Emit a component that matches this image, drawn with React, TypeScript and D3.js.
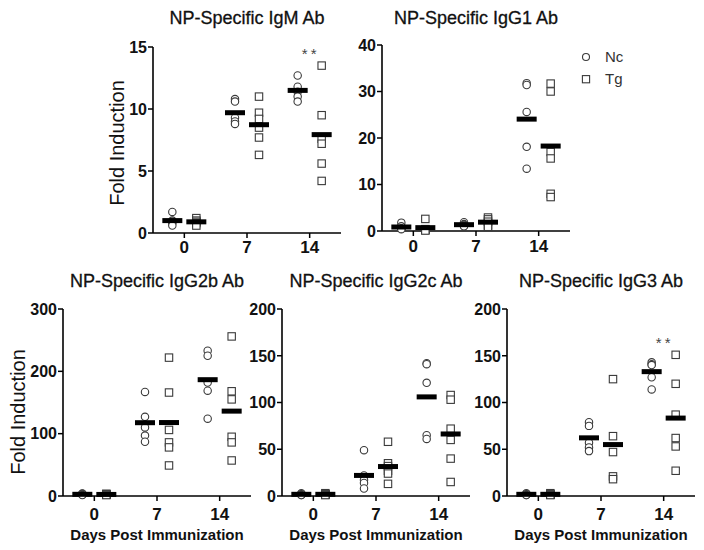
import React from "react";
import * as d3 from "d3";

// ---- data ----
const days = ["0", "7", "14"];
const groups = ["Nc", "Tg"];

const igmNc = [[1.7, 1.0, 0.9, 0.8, 0.6], [10.8, 10.6, 9.3, 9.0, 8.8], [12.7, 11.8, 11.4, 11.0, 10.6]];
const igmTg = [[1.2, 1.0, 0.9, 0.8, 0.6], [11.0, 9.7, 9.2, 8.5, 7.7, 6.3], [13.5, 9.5, 7.6, 7.2, 5.6, 4.2]];

const igg1Nc = [[1.8, 1.0, 0.6, 0.5, 0.4], [1.9, 1.5, 1.3, 1.1, 1.0], [31.8, 31.4, 25.6, 18.1, 13.4]];
const igg1Tg = [[2.6, 0.4, 0.3, 0.2, 0.1], [2.9, 2.5, 2.0, 1.2, 0.9], [31.7, 30.0, 17.0, 15.6, 8.0, 7.3]];

const igg2bNc = [[4.0, 3.5, 2.5, 2.0, 1.5], [167, 127, 110, 97, 87], [233, 225, 182, 169, 124]];
const igg2bTg = [[3.5, 3.0, 2.5, 2.0, 1.5], [222, 166, 106, 86, 78, 49], [256, 168, 155, 95, 86, 57]];

const igg2cNc = [[3, 2, 2, 1, 1], [49, 22, 17, 14, 8], [142, 141, 121, 65, 61]];
const igg2cTg = [[3, 2, 1.5, 1.5, 1], [58, 35, 32, 27, 24, 13], [108, 103, 72, 60, 40, 15]];

const igg3Nc = [[3, 2, 2, 1, 1], [79, 75, 57, 52, 48], [143, 141, 140, 127, 114]];
const igg3Tg = [[3, 2, 1.5, 1.5, 1], [125, 64, 47, 21, 18], [151, 120, 87, 62, 53, 27]];

const igmTicks = [0, 5, 10, 15];
const igg1Ticks = [0, 10, 20, 30, 40];
const igg2bTicks = [0, 100, 200, 300];
const igg2cTicks = [0, 50, 100, 150, 200];
const igg3Ticks = [0, 50, 100, 150, 200];

const titles = [
  "NP-Specific IgM Ab",
  "NP-Specific IgG1 Ab",
  "NP-Specific IgG2b Ab",
  "NP-Specific IgG2c Ab",
  "NP-Specific IgG3 Ab",
];

const FONT = "'Liberation Sans', Arial, Helvetica, sans-serif";
const MARK = "#3a3a3a";

type PanelProps = {
  title: string;
  nc: number[][];
  tg: number[][];
  ticks: number[];
  x0: number;
  x1: number;
  yTop: number;
  yBot: number;
  titleY: number;
  xLabelY: number;
  yLabel?: { x: number; y: number };
  xTitle?: boolean;
  star?: number;
};

function Panel(p: PanelProps) {
  const x = d3.scaleBand<string>().domain(days).range([p.x0, p.x1]).padding(0);
  const y = d3
    .scaleLinear()
    .domain([0, p.ticks[p.ticks.length - 1]])
    .range([p.yBot, p.yTop]);
  const off = 12;
  const cx = (d: string) => (x(d) as number) + x.bandwidth() / 2;
  const series = [
    { key: groups[0], data: p.nc, dx: -off },
    { key: groups[1], data: p.tg, dx: off },
  ];
  const midX = (p.x0 + p.x1) / 2;
  return (
    <g>
      <text x={midX} y={p.titleY} textAnchor="middle" fontSize={18} fontFamily={FONT} fill="#111"
        stroke="#111" strokeWidth={0.3}>
        {p.title}
      </text>
      <line x1={p.x0} x2={p.x0} y1={p.yTop} y2={p.yBot} stroke="#000" strokeWidth={1.6} />
      <line x1={p.x0} x2={p.x1} y1={p.yBot} y2={p.yBot} stroke="#000" strokeWidth={1.6} />
      {p.ticks.map((t) => (
        <g key={"yt" + t}>
          <line x1={p.x0 - 5} x2={p.x0} y1={y(t)} y2={y(t)} stroke="#000" strokeWidth={1.5} />
          <text
            x={p.x0 - 6}
            y={y(t)}
            dy="0.36em"
            textAnchor="end"
            fontSize={16}
            fontWeight="bold"
            fontFamily={FONT}
            fill="#111"
          >
            {t}
          </text>
        </g>
      ))}
      {days.map((d) => (
        <g key={"xt" + d}>
          <line x1={cx(d)} x2={cx(d)} y1={p.yBot} y2={p.yBot + 5} stroke="#000" strokeWidth={1.5} />
          <text
            x={cx(d)}
            y={p.xLabelY}
            textAnchor="middle"
            fontSize={17}
            fontWeight="bold"
            fontFamily={FONT}
            fill="#111"
          >
            {d}
          </text>
        </g>
      ))}
      {series.map((s) =>
        s.data.map((vals, i) =>
          vals.map((v, j) =>
            s.key === "Nc" ? (
              <circle
                key={s.key + i + "-" + j}
                cx={cx(days[i]) + s.dx}
                cy={y(v)}
                r={3.7}
                fill="#fff"
                stroke={MARK}
                strokeWidth={1.1}
              />
            ) : (
              <rect
                key={s.key + i + "-" + j}
                x={cx(days[i]) + s.dx - 3.7}
                y={y(v) - 3.7}
                width={7.4}
                height={7.4}
                fill="#fff"
                stroke={MARK}
                strokeWidth={1.1}
              />
            )
          )
        )
      )}
      {series.map((s) =>
        s.data.map((vals, i) => (
          <rect
            key={"m" + s.key + i}
            x={cx(days[i]) + s.dx - 10}
            y={y(d3.mean(vals) as number) - 2.5}
            width={20}
            height={5}
            fill="#000"
          />
        ))
      )}
      {p.star !== undefined && (
        <text
          x={cx(days[p.star]) + 1}
          y={y(d3.max(p.tg[p.star].concat(p.nc[p.star])) as number) - 7}
          textAnchor="middle"
          fontSize={15}
          fontFamily={FONT}
          letterSpacing={3}
          fill="#444"
        >
          **
        </text>
      )}
      {p.yLabel && (
        <text
          transform={`translate(${p.yLabel.x},${p.yLabel.y}) rotate(-90)`}
          textAnchor="middle"
          fontSize={20}
          fontFamily={FONT}
          fill="#111"
        >
          Fold Induction
        </text>
      )}
      {p.xTitle && (
        <text
          x={midX}
          y={540}
          textAnchor="middle"
          fontSize={15}
          fontWeight="bold"
          fontFamily={FONT}
          fill="#111"
        >
          Days Post Immunization
        </text>
      )}
    </g>
  );
}

export default function App() {
  return (
    <svg
      width={704}
      height={550}
      style={{ position: "absolute", left: 0, top: 0, background: "#fff" }}
    >
      <rect width={704} height={550} fill="#fff" />
      <Panel title={titles[0]} nc={igmNc} tg={igmTg} ticks={igmTicks} x0={153} x1={341} yTop={47} yBot={233}
        titleY={24} xLabelY={253} yLabel={{ x: 124, y: 143 }} star={2} />
      <Panel title={titles[1]} nc={igg1Nc} tg={igg1Tg} ticks={igg1Ticks} x0={382} x1={570} yTop={45} yBot={231}
        titleY={24} xLabelY={252} />
      <Panel title={titles[2]} nc={igg2bNc} tg={igg2bTg} ticks={igg2bTicks} x0={63} x1={251} yTop={309} yBot={496}
        titleY={287} xLabelY={520} yLabel={{ x: 25, y: 412 }} xTitle />
      <Panel title={titles[3]} nc={igg2cNc} tg={igg2cTg} ticks={igg2cTicks} x0={282} x1={470} yTop={309} yBot={496}
        titleY={287} xLabelY={520} xTitle />
      <Panel title={titles[4]} nc={igg3Nc} tg={igg3Tg} ticks={igg3Ticks} x0={507} x1={695} yTop={309} yBot={496}
        titleY={287} xLabelY={520} xTitle star={2} />
      <circle cx={586} cy={57} r={3.5} fill="#fff" stroke={MARK} strokeWidth={1.1} />
      <text x={605} y={62} fontSize={15} fontFamily={FONT} fill="#333">{groups[0]}</text>
      <rect x={582.4} y={75.6} width={7.2} height={7.2} fill="#fff" stroke={MARK} strokeWidth={1.1} />
      <text x={605} y={84} fontSize={15} fontFamily={FONT} fill="#333">{groups[1]}</text>
    </svg>
  );
}
